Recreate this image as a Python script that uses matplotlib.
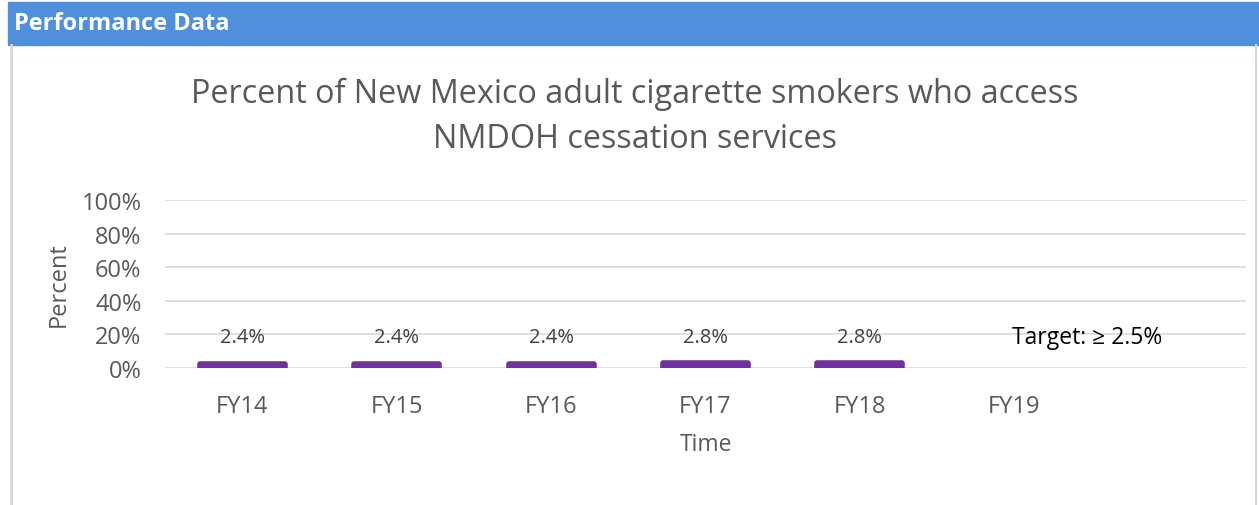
import matplotlib.pyplot as plt
from matplotlib.patches import Rectangle

# data
years = ["FY14", "FY15", "FY16", "FY17", "FY18", "FY19"]
values = [2.4, 2.4, 2.4, 2.8, 2.8]
labels = ["2.4%", "2.4%", "2.4%", "2.8%", "2.8%"]
target_text = "Target: \u2265 2.5%"

plt.rcParams['font.family'] = ['Open Sans', 'DejaVu Sans']

fig = plt.figure(figsize=(12.59, 5.06), dpi=100)
W, H = 1259, 506

# header band and panel border
fig.patches.append(Rectangle((8 / W, 1 - 46 / H), 1 - 8 / W, 43 / H, transform=fig.transFigure,
                             color="#4f8fdc", zorder=0))
fig.add_artist(plt.Line2D([11 / W, 11 / W], [0, 1 - 46 / H], transform=fig.transFigure,
                          color="#d9d9d9", lw=2))
fig.add_artist(plt.Line2D([1256 / W, 1256 / W], [0, 1 - 46 / H], transform=fig.transFigure,
                          color="#d9d9d9", lw=1.5))
fig.text(14 / W, 1 - 24 / H, "Performance Data", color="white", fontsize=17, fontweight="bold",
         va="center", ha="left")

ax = fig.add_axes([165 / W, 1 - 369 / H, (1246 - 165) / W, (369 - 201) / H])
x = list(range(len(values)))
ax.bar(x, values, width=0.55, color="#7030a0", edgecolor="#7030a0", linewidth=4,
       joinstyle="round", zorder=3)
for xi, lab in zip(x, labels):
    ax.text(xi, 18.5, lab, ha="center", va="center", fontsize=14.5, color="#404040", zorder=4)
ax.text(5.47, 18.5, target_text, ha="center", va="center", fontsize=16.5, color="black", zorder=4)

ax.set_xlim(-0.5, 6.5)
ax.set_ylim(0, 100)
ax.set_yticks([0, 20, 40, 60, 80, 100])
ax.set_yticklabels(["0%", "20%", "40%", "60%", "80%", "100%"])
ax.set_xticks(range(len(years)))
ax.set_xticklabels(years)
ax.tick_params(axis="both", length=0, labelsize=17, colors="#595959")
ax.tick_params(axis="x", pad=19)
ax.tick_params(axis="y", pad=17)
ax.grid(axis="y", color="#d9d9d9", lw=1.2, zorder=0)
ax.set_axisbelow(True)
for s in ax.spines.values():
    s.set_visible(False)

ax.set_ylabel("Percent", fontsize=17, color="#595959", labelpad=8)
ax.set_xlabel("Time", fontsize=16.5, color="#595959", labelpad=10)

fig.text(635 / W, 1 - 117 / H,
         "Percent of New Mexico adult cigarette smokers who access\nNMDOH cessation services",
         ha="center", va="center", fontsize=23.3, color="#595959", linespacing=1.5)

fig.savefig("out.png", dpi=100)
